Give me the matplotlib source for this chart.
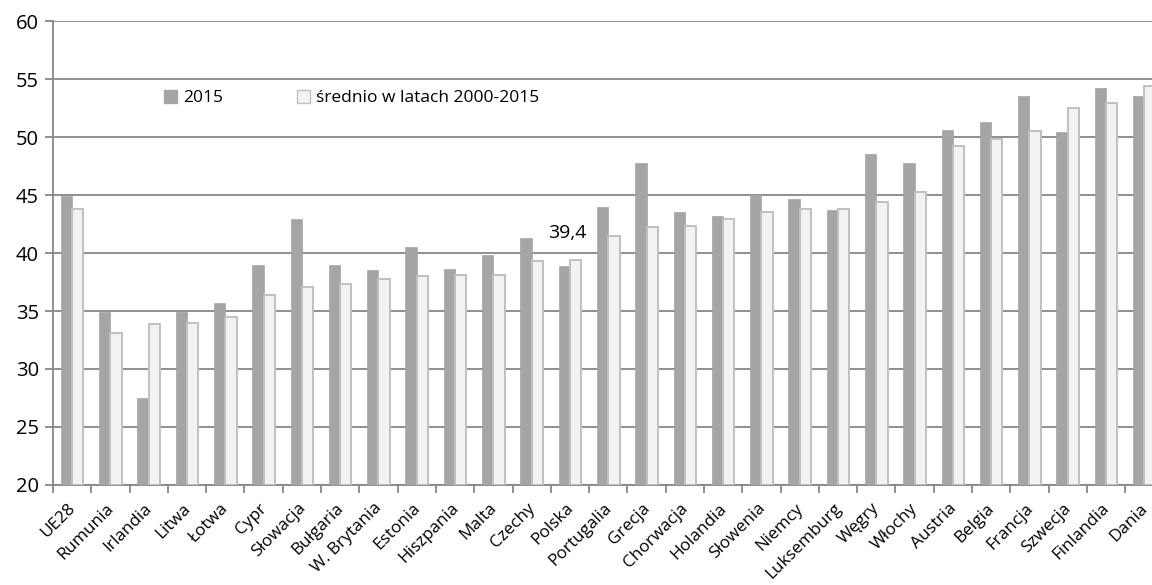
import numpy as np
import matplotlib
matplotlib.use('Agg')
import matplotlib.pyplot as plt
from matplotlib.patches import Patch

plt.rcParams['font.family'] = ['Open Sans', 'DejaVu Sans']

countries = ['UE28', 'Rumunia', 'Irlandia', 'Litwa', 'Łotwa', 'Cypr', 'Słowacja',
             'Bułgaria', 'W. Brytania', 'Estonia', 'Hiszpania', 'Malta', 'Czechy',
             'Polska', 'Portugalia', 'Grecja', 'Chorwacja', 'Holandia', 'Słowenia',
             'Niemcy', 'Luksemburg', 'Węgry', 'Włochy', 'Austria', 'Belgia',
             'Francja', 'Szwecja', 'Finlandia', 'Dania']
val_2015 = [44.9, 34.9, 27.5, 34.9, 35.7, 39.0, 42.9, 39.0, 38.5, 40.5, 38.6,
            39.8, 41.3, 38.9, 44.0, 47.8, 43.5, 43.2, 45.0, 44.7, 43.7, 48.5,
            47.8, 50.6, 51.3, 53.5, 50.4, 54.2, 53.5]
val_avg = [43.8, 33.1, 33.9, 34.0, 34.5, 36.4, 37.1, 37.3, 37.8, 38.0, 38.1,
           38.1, 39.3, 39.4, 41.5, 42.2, 42.3, 42.9, 43.5, 43.8, 43.8, 44.4,
           45.3, 49.2, 49.8, 50.5, 52.5, 52.9, 54.4]
label_2015 = '2015'
label_avg = 'średnio w latach 2000-2015'
highlight = 'Polska'

dark = '#a5a5a5'
light = '#f2f2f2'
light_edge = '#c0c0c0'
grid_col = '#878787'

fig = plt.figure(figsize=(11.52, 5.85), dpi=100)
ax = fig.add_axes([0.046, 0.171, 0.954, 0.793])

x = np.arange(len(countries))
w = 0.295
ax.bar(x - w / 2, np.array(val_2015) - 20, w, bottom=20, color=dark,
       edgecolor=dark, linewidth=0.5, zorder=3)
ax.bar(x + w / 2, np.array(val_avg) - 20, w, bottom=20, color=light,
       edgecolor=light_edge, linewidth=1.4, zorder=3)

ax.set_ylim(20, 60)
ax.set_xlim(-0.5, 28.2)
ax.set_yticks(range(20, 61, 5))
ax.yaxis.grid(True, color=grid_col, linewidth=1.3, zorder=0)
ax.set_axisbelow(True)

# category boundaries get the tick marks, names sit at the centers
ax.set_xticks(x - 0.5)
ax.set_xticklabels([])
ax.set_xticks(x - 0.12, minor=True)
ax.set_xticklabels(countries, minor=True, rotation=45, ha='right',
                   rotation_mode='anchor', fontsize=12.3)
ax.tick_params(axis='x', which='minor', length=0, pad=11)
ax.tick_params(axis='x', which='major', length=6, width=1.3, color=grid_col)
ax.tick_params(axis='y', length=6, width=1.3, color=grid_col, labelsize=14.5, pad=4)

for s in ['top', 'right']:
    ax.spines[s].set_visible(False)
for s in ['left', 'bottom']:
    ax.spines[s].set_color(grid_col)
    ax.spines[s].set_linewidth(1.3)

i = countries.index(highlight)
ax.annotate(f'{val_avg[i]:.1f}'.replace('.', ','), (x[i], val_avg[i]),
            xytext=(-2, 13), textcoords='offset points', ha='center',
            va='bottom', fontsize=14, zorder=4)

handles = [Patch(facecolor=dark, edgecolor=dark, label=label_2015),
           Patch(facecolor=light, edgecolor=light_edge, label=label_avg)]
fig.legend(handles=handles, loc='center left', bbox_to_anchor=(0.129, 0.832),
           ncol=2, frameon=False, fontsize=12.5, handlelength=0.75,
           handleheight=0.75, handletextpad=0.35, columnspacing=4.25)

fig.savefig('out.png', dpi=100)
